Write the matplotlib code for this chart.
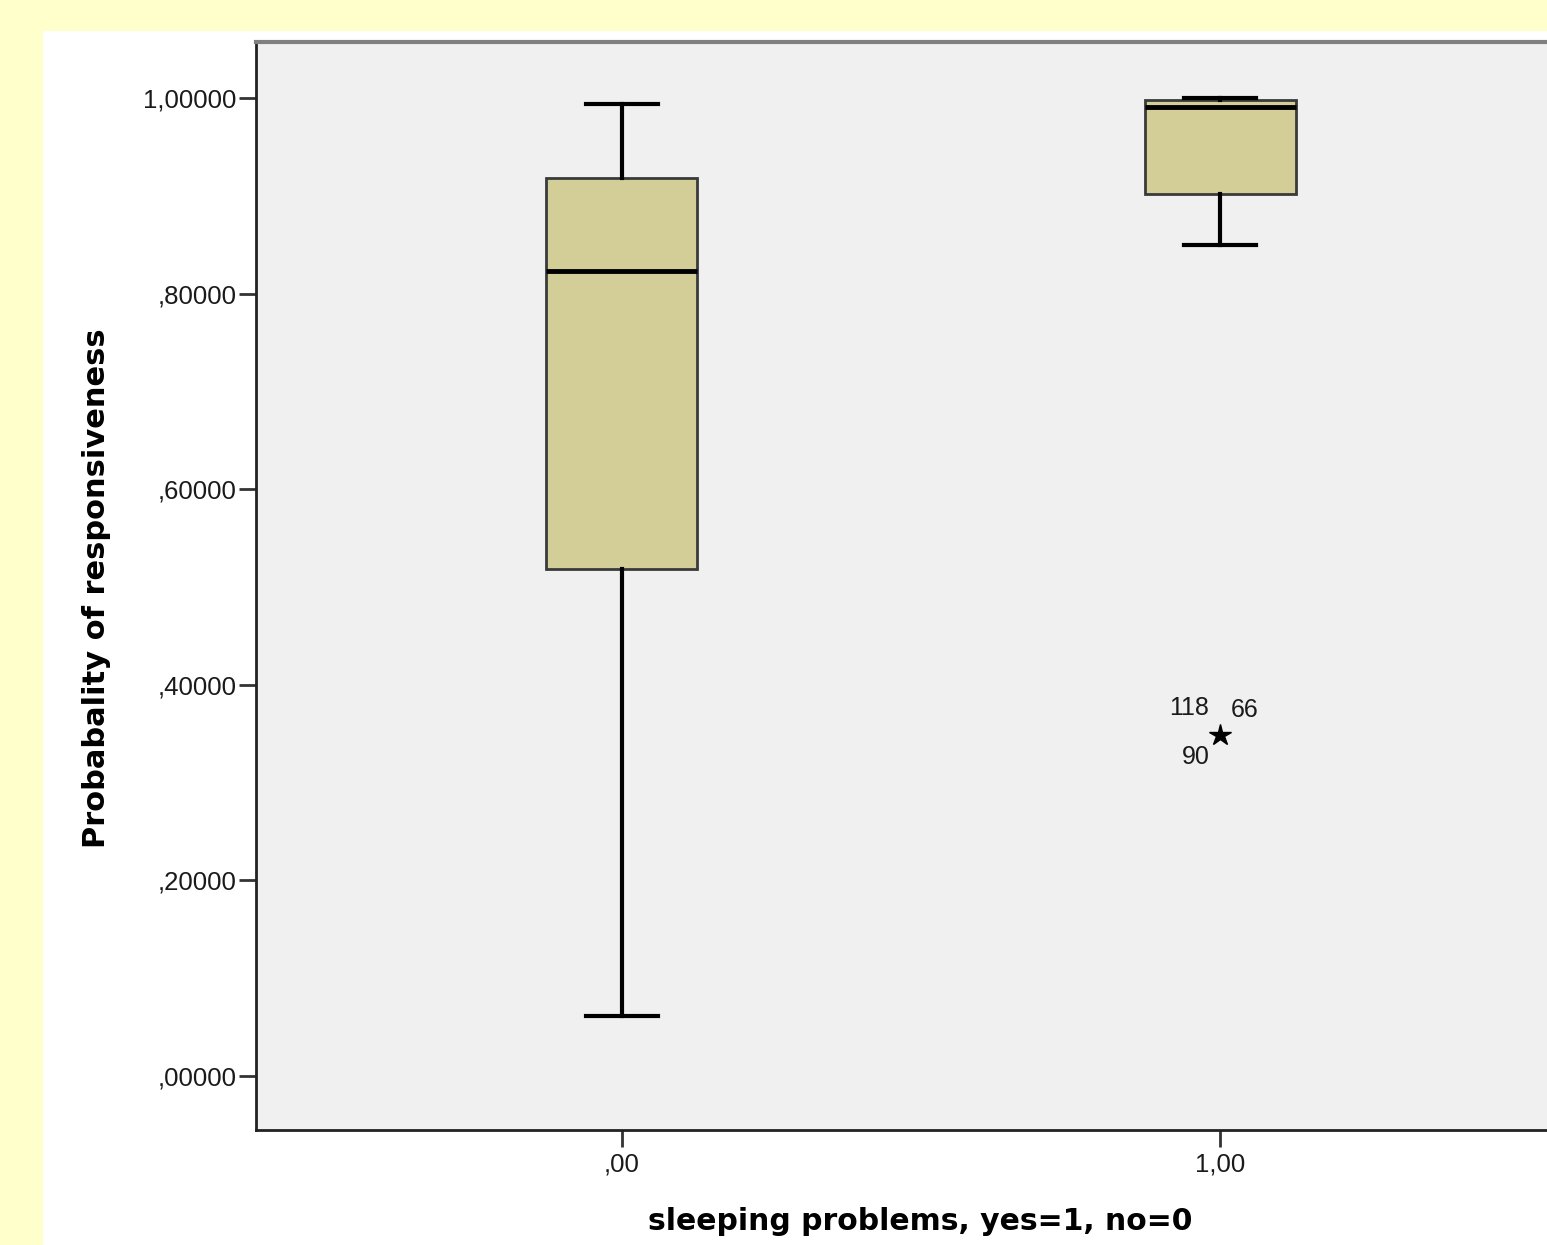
import matplotlib
matplotlib.use("Agg")
import matplotlib.pyplot as plt
from matplotlib.patches import Rectangle

# ---- data ----
categories = [",00", "1,00"]
positions = [0, 1]
whislo = [0.061, 0.850]
q1 = [0.518, 0.902]
med = [0.823, 0.991]
q3 = [0.918, 0.998]
whishi = [0.994, 1.000]
outliers = [[], [0.349]]
outlier_ids = ["118", "66", "90"]
yticks = [0.0, 0.2, 0.4, 0.6, 0.8, 1.0]
ytick_labels = [",00000", ",20000", ",40000", ",60000", ",80000", "1,00000"]

W, H = 1547, 1245
fig = plt.figure(figsize=(W / 100, H / 100), dpi=100)
fig.patch.set_facecolor("#FFFFCC")
fig.patches.append(Rectangle((43 / W, 0), 1 - 43 / W, 1 - 31 / H,
                             transform=fig.transFigure, facecolor="white",
                             edgecolor="none", zorder=-10))

ax = fig.add_axes([256 / W, 1 - 1130 / H, 1 - 256 / W + 0.002, (1130 - 42) / H])
ax.set_facecolor("#F0F0F0")

stats = []
for i in range(len(categories)):
    stats.append(dict(med=med[i], q1=q1[i], q3=q3[i], whislo=whislo[i],
                      whishi=whishi[i], fliers=[]))

ax.bxp(stats, positions=positions, widths=0.253, patch_artist=True,
       showfliers=False,
       boxprops=dict(facecolor="#D3CE97", edgecolor="#3a3a3a", linewidth=2),
       medianprops=dict(color="black", linewidth=3.5),
       whiskerprops=dict(color="black", linewidth=3),
       capprops=dict(color="black", linewidth=3),
       capwidths=0.12)

for p, outs in zip(positions, outliers):
    for v in outs:
        ax.plot([p], [v], marker="*", color="black", markersize=16,
                linestyle="none", zorder=5)
        offs = [(-31, 27), (24, 25), (-24, -22)]
        for lab, (dx, dy) in zip(outlier_ids, offs):
            ax.annotate(lab, (p, v), xytext=(dx * 0.72, dy * 0.72),
                        textcoords="offset points", ha="center", va="center",
                        fontsize=18, family="Liberation Sans", color="#1a1a1a")

ax.set_xlim(-0.611, 1.551)
ax.set_ylim(-0.0552, 1.0573)
ax.set_xticks(positions)
ax.set_xticklabels(categories)
ax.set_yticks(yticks)
ax.set_yticklabels(ytick_labels)
ax.tick_params(axis="both", length=12, width=2, color="#333333",
               labelsize=18.5, labelcolor="#1a1a1a")
ax.tick_params(axis="y", pad=2)
ax.tick_params(axis="x", pad=4)
for lab in ax.get_xticklabels() + ax.get_yticklabels():
    lab.set_family("Liberation Sans")

for s in ["left", "bottom"]:
    ax.spines[s].set_linewidth(2)
    ax.spines[s].set_color("#222222")
ax.spines["top"].set_linewidth(3)
ax.spines["top"].set_color("#808080")
ax.spines["right"].set_visible(False)

ax.set_ylabel("Probabality of responsiveness", fontsize=22, fontweight="bold",
              family="DejaVu Sans", va="center")
ax.yaxis.set_label_coords((97 - 256) / 1294, (1130 - 588) / 1088)
ax.set_xlabel("sleeping problems, yes=1, no=0", fontsize=21.5, fontweight="bold",
              family="DejaVu Sans", va="center")
ax.xaxis.set_label_coords((920 - 256) / 1294, (1130 - 1222) / 1088)

fig.savefig("out.png", dpi=100, facecolor=fig.get_facecolor())
